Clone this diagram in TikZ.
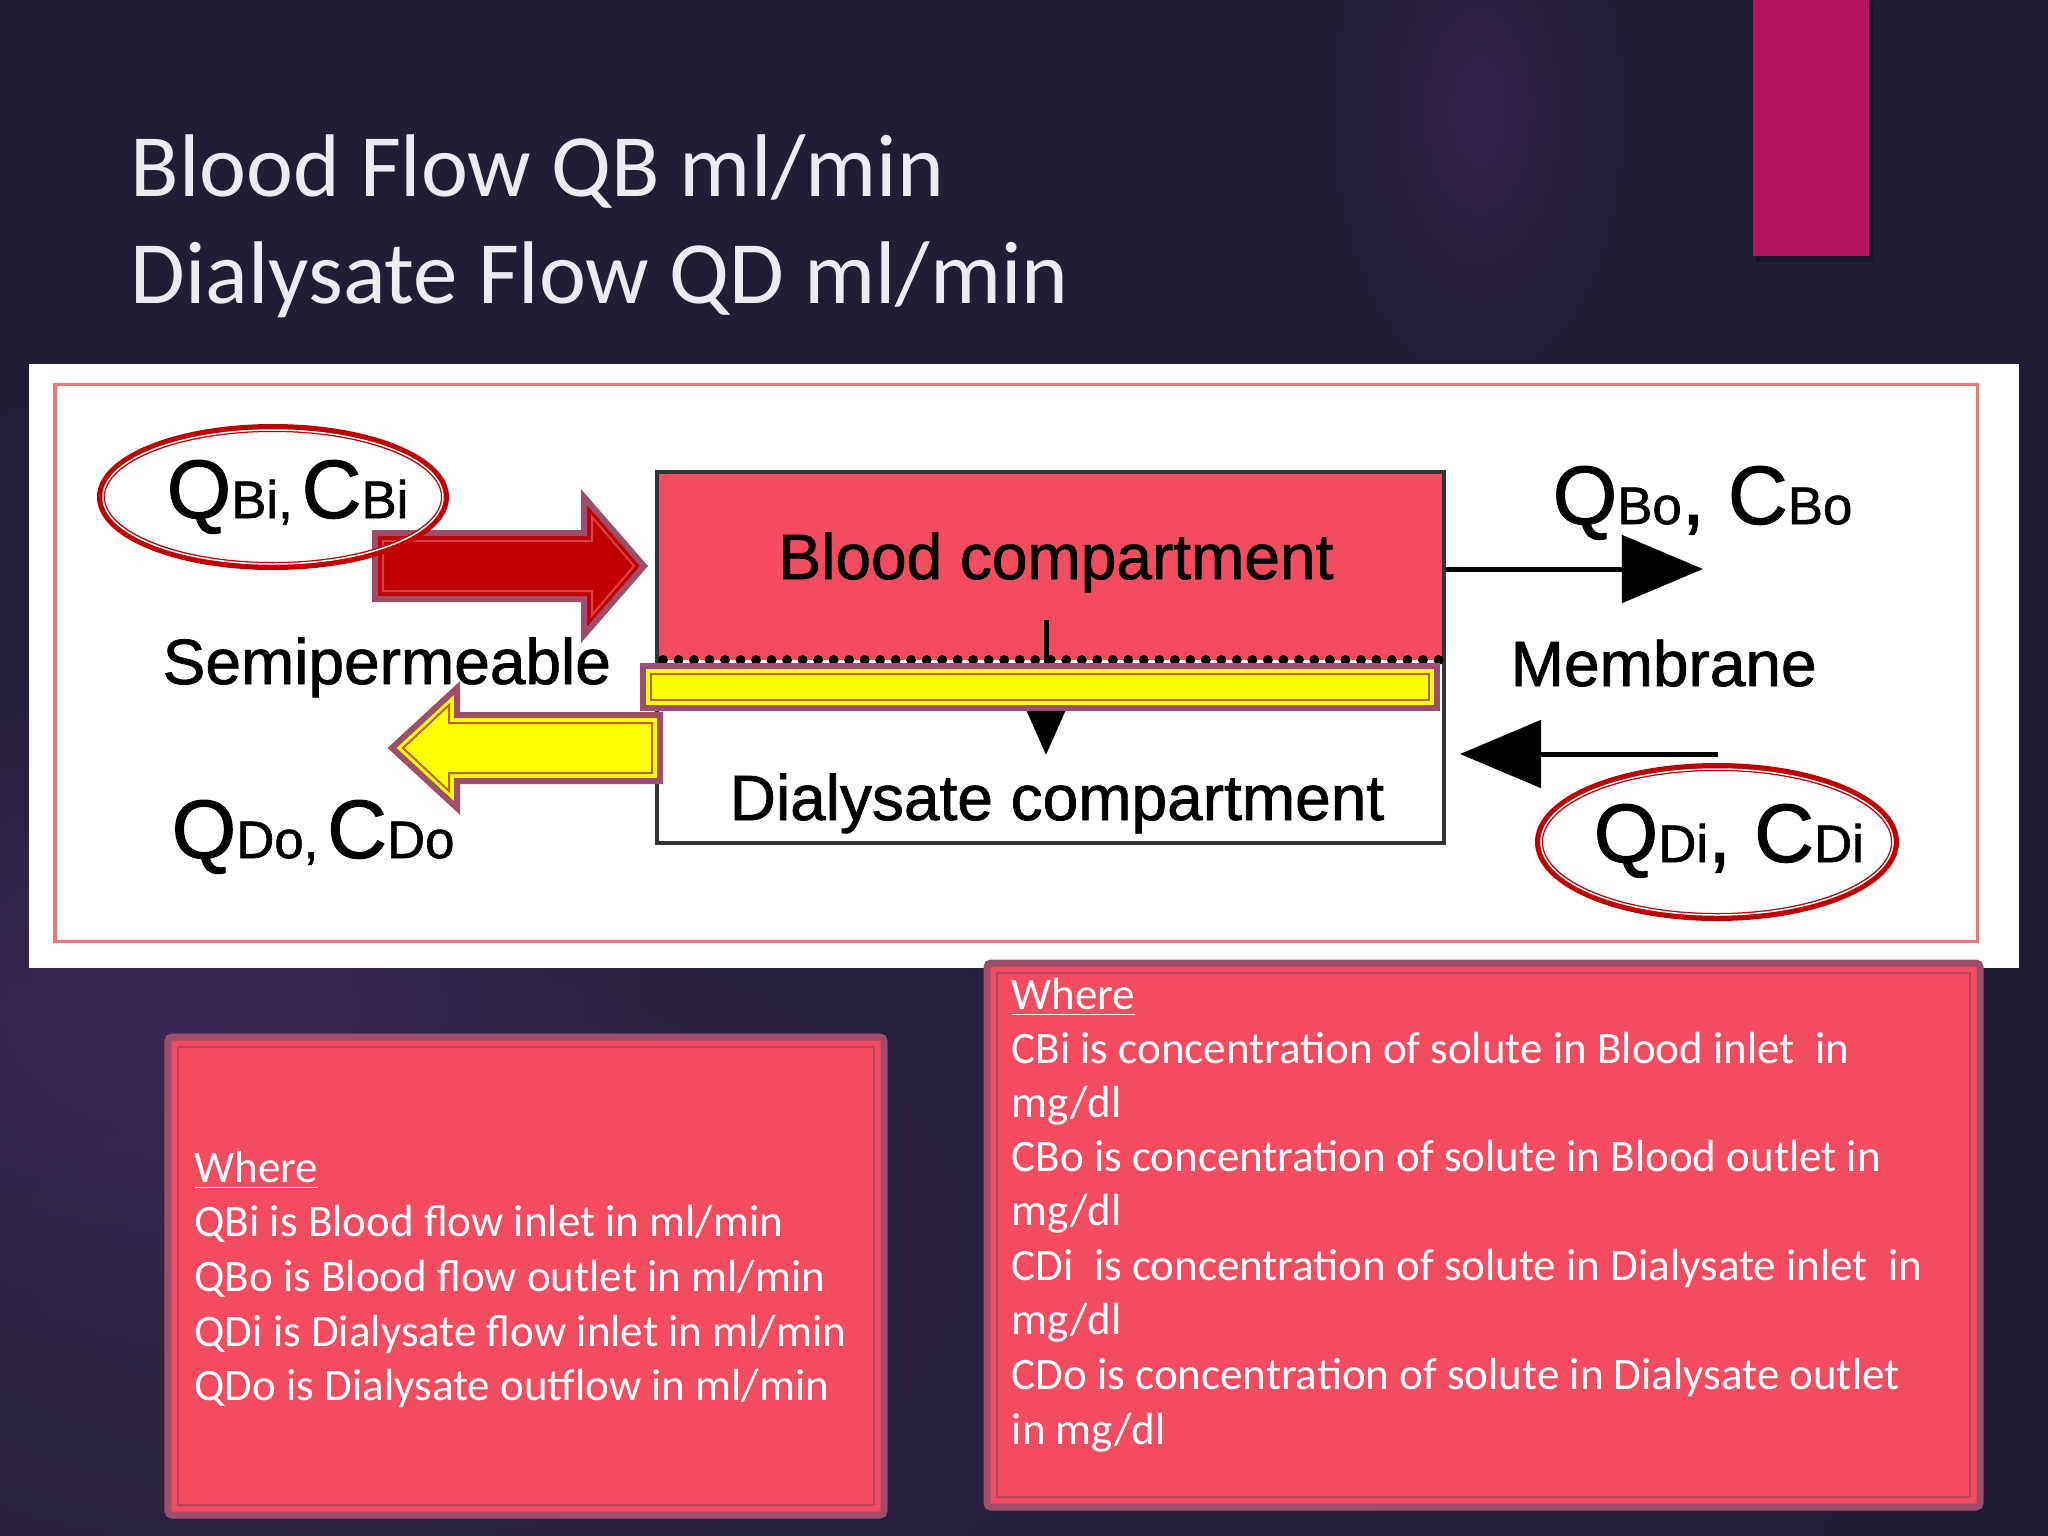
\documentclass[tikz,border=0pt]{standalone}
\usepackage{fontspec}
\setmainfont{Carlito}
\newfontfamily\diagfont[FakeBold=1.2]{Liberation Sans}
\usetikzlibrary{arrows.meta,fadings}
\definecolor{bgcol}{HTML}{211E34}
\definecolor{glowcol}{HTML}{3A2856}
\definecolor{glowtop}{HTML}{33224C}
\definecolor{lowglow}{HTML}{2E2446}
\definecolor{magbar}{HTML}{B3155F}
\definecolor{titlecol}{HTML}{ECECF0}
\definecolor{panelline}{HTML}{E6767A}
\definecolor{bloodred}{HTML}{F24C5E}
\definecolor{boxline}{HTML}{333333}
\definecolor{mauve}{HTML}{9E4E6B}
\definecolor{darkred}{HTML}{C00000}
\definecolor{innerred}{HTML}{D8404A}
\definecolor{yel}{HTML}{FFFF00}
\definecolor{yelline}{HTML}{B8642E}
\definecolor{boxfill}{HTML}{F24C5E}
\definecolor{boxinner}{HTML}{BE4562}
\tikzfading[name=glowfade, inner color=transparent!0, outer color=transparent!100]
\newcommand{\mybig}[1]{{\fontsize{23.6pt}{27pt}\selectfont #1}}
\newcommand{\mysub}[1]{{\fontsize{15pt}{17pt}\selectfont #1}}
\tikzset{
  title/.style={font=\fontsize{25.3pt}{30pt}\selectfont, text=titlecol, inner sep=0pt, anchor=base west},
  boxtext/.style={font=\fontsize{12.8pt}{15pt}\selectfont, text=white, inner sep=0pt, anchor=base west},
  diag/.style={font=\diagfont\fontsize{18.2pt}{22pt}\selectfont, text=black, inner sep=0pt},
  qlab/.style={font=\diagfont, text=black, inner sep=0pt, anchor=base west},
  blockout/.style={draw=mauve, line width=0.6mm, line join=miter},
  ring/.style={draw=darkred, line width=0.8mm},
  ringin/.style={draw=white, line width=0.15mm},
  flow/.style={draw=black, line width=0.5mm, -{Triangle[length=8.1mm, width=6.7mm]}},
  tbox/.style={fill=boxfill, draw=mauve, line width=0.7mm, rounded corners=0.4mm},
  tboxin/.style={draw=boxinner, line width=0.25mm},
  glow/.style={path fading=glowfade}
}
\begin{document}
\begin{tikzpicture}[x=0.01cm, y=-0.01cm]
\useasboundingbox (0,0) rectangle (2048,1536);
% background
\fill[bgcol] (0,0) rectangle (2048,1536);
\fill[lowglow, glow] (300,1250) ellipse (1700 and 900);
\fill[glowcol, glow] (180,1010) ellipse (520 and 360);
\fill[glowtop, glow] (1478,110) ellipse (150 and 280);
% magenta bar
\fill[black, opacity=0.25] (1756,4) rectangle (1873,262);
\fill[magbar] (1753,0) rectangle (1869,256);
% title
\node[title] (t1) at (130,196) {Blood Flow QB ml/min};
\node[title] (t2) at (130,303) {Dialysate Flow QD ml/min};
% white panel
\fill[white] (29,364) rectangle (2019,968);
\draw[panelline, line width=0.3mm] (55,384) rectangle (1977,941);
% compartments
\fill[bloodred] (657,472) rectangle (1444,660);
\coordinate (bbnw) at (657,472);
\coordinate (bbse) at (1444,843);
\draw[boxline, line width=0.35mm] (bbnw) rectangle (bbse);
\node[diag, anchor=base] (bc) at (1056,579) {Blood compartment};
\node[diag, anchor=base] (dc) at (1057,820) {Dialysate compartment};
% membrane dots
\coordinate (m1) at (663,660);
\coordinate (m2) at (1442,660);
\draw[black, line width=1mm, line cap=round, dash pattern=on 0pt off 1.55mm] (m1) -- (m2);
% small vertical arrow
\coordinate (va) at (1046,620);
\coordinate (vb) at (1046,755);
\draw[black, line width=0.5mm, -{Triangle[length=4.7mm, width=4mm]}] (va) -- (vb);
% yellow bar
\fill[yel] (643,666) rectangle (1437,708);
\draw[blockout] (643,666) rectangle (1437,708);
\draw[yelline, line width=0.2mm] (651,674) rectangle (1429,700);
% red block arrow
\fill[darkred] (375,533) -- (584,533) -- (584,497) -- (644,566) -- (584,635) -- (584,599) -- (375,599) -- cycle;
\draw[blockout] (375,533) -- (584,533) -- (584,497) -- (644,566) -- (584,635) -- (584,599) -- (375,599) -- cycle;
\draw[innerred, line width=0.2mm] (383,541) -- (592,541) -- (592,517) -- (634,566) -- (592,615) -- (592,591) -- (383,591) -- cycle;
% yellow block arrow
\fill[yel] (660,715) -- (457,715) -- (457,688) -- (392,748) -- (457,808) -- (457,781) -- (660,781) -- cycle;
\draw[blockout] (660,715) -- (457,715) -- (457,688) -- (392,748) -- (457,808) -- (457,781) -- (660,781) -- cycle;
\draw[yelline, line width=0.2mm] (652,723) -- (449,723) -- (449,705) -- (403,748) -- (449,791) -- (449,773) -- (652,773) -- cycle;
% black flow arrows
\coordinate (bo1) at (1446,569);
\coordinate (bo2) at (1703,569);
\draw[flow] (bo1) -- (bo2);
\coordinate (di1) at (1718,754);
\coordinate (di2) at (1460,754);
\draw[flow] (di1) -- (di2);
% labels
\node[diag, anchor=base west] (semi) at (162,684) {Semipermeable};
\node[diag, anchor=base west] (memb) at (1510,686) {Membrane};
\node[qlab] (qbi) at (166,518) {\mybig{Q}\mysub{Bi,\,}\mybig{C}\mysub{Bi}};
\node[qlab] (qbo) at (1552,524) {\mybig{Q}\mysub{Bo}\mybig{, C}\mysub{Bo}};
\node[qlab] (qdo) at (171,858) {\mybig{Q}\mysub{Do,\,}\mybig{C}\mysub{Do}};
\node[qlab] (qdi) at (1593,862) {\mybig{Q}\mysub{Di}\mybig{, C}\mysub{Di}};
% ellipses
\draw[ring] (273,497) ellipse (172 and 69);
\draw[ringin] (273,497) ellipse (170 and 67);
\draw[ring] (1717,842) ellipse (178 and 75);
\draw[ringin] (1717,842) ellipse (176 and 73);
% left text box
\draw[tbox] (168,1037) rectangle (884,1515);
\draw[tboxin] (178,1047) rectangle (874,1505);
\node[boxtext] (lw) at (194,1182) {\underline{Where}};
\node[boxtext] (l1) at (194,1236) {QBi is Blood flow inlet in ml/min};
\node[boxtext] (l2) at (194,1291) {QBo is Blood flow outlet in ml/min};
\node[boxtext] (l3) at (194,1346) {QDi is Dialysate flow inlet in ml/min};
\node[boxtext] (l4) at (194,1400) {QDo is Dialysate outflow in ml/min};
% right text box
\draw[tbox] (987,963) rectangle (1980,1507);
\draw[tboxin] (997,973) rectangle (1970,1497);
\node[boxtext] (rw) at (1011,1009) {\underline{Where}};
\node[boxtext] (r1) at (1011,1063) {CBi is concentration of solute in Blood inlet\ \ in};
\node[boxtext] (r2) at (1011,1117) {mg/dl};
\node[boxtext] (r3) at (1011,1171) {CBo is concentration of solute in Blood outlet in};
\node[boxtext] (r4) at (1011,1225) {mg/dl};
\node[boxtext] (r5) at (1011,1280) {CDi\ \ is concentration of solute in Dialysate inlet\ \ in};
\node[boxtext] (r6) at (1011,1334) {mg/dl};
\node[boxtext] (r7) at (1011,1389) {CDo is concentration of solute in Dialysate outlet};
\node[boxtext] (r8) at (1011,1444) {in mg/dl};
\end{tikzpicture}
\end{document}
